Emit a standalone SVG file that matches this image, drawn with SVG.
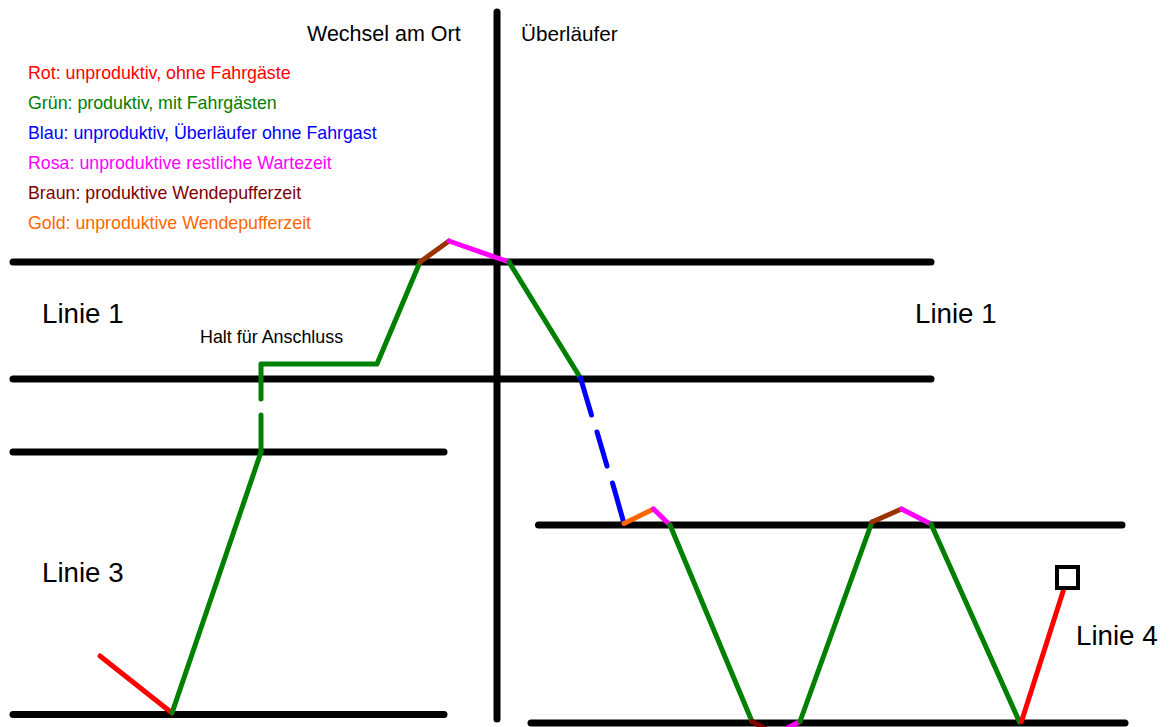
<svg xmlns="http://www.w3.org/2000/svg" width="1169" height="727" viewBox="0 0 1169 727">
<style>
text{font-family:"Liberation Sans",Arial,sans-serif;}
.lab{font-size:21.5px;fill:#000;}
.big{font-size:27.7px;fill:#000;}
.leg{font-size:17.8px;}
.small{font-size:17.9px;fill:#000;}
.track{stroke:#000;stroke-width:7;stroke-linecap:round;fill:none;}
.seg{stroke-width:5;stroke-linecap:round;stroke-linejoin:round;fill:none;}
.g{stroke:#008000;}
.r{stroke:#ff0000;}
.b{stroke:#0000ff;}
.m{stroke:#ff00ff;}
.br{stroke:#993300;}
.br2{stroke:#800000;}
.o{stroke:#ff6600;}
</style>
<rect width="1169" height="727" fill="#fff"/>
<g id="tracks">
<line class="track" x1="497" y1="12" x2="497" y2="719"/>
<line class="track" x1="13" y1="262" x2="931" y2="262"/>
<line class="track" x1="13" y1="379" x2="931" y2="379"/>
<line class="track" x1="13" y1="452" x2="444" y2="452"/>
<line class="track" x1="13" y1="714.5" x2="444" y2="714.5"/>
<line class="track" x1="538.5" y1="525" x2="1122" y2="525"/>
<line class="track" x1="531" y1="723" x2="1125" y2="723"/>
</g>
<g id="labels">
<text class="lab" x="307" y="41">Wechsel am Ort</text>
<text class="lab" x="521" y="41" style="font-size:20.7px">Überläufer</text>
<text class="big" x="42" y="323">Linie 1</text>
<text class="big" x="915" y="323">Linie 1</text>
<text class="big" x="42" y="582">Linie 3</text>
<text class="big" x="1076" y="645">Linie 4</text>
<text class="small" x="200" y="343">Halt für Anschluss</text>
</g>
<g id="legend">
<text class="leg" x="28" y="79" fill="#ff0000">Rot: unproduktiv, ohne Fahrgäste</text>
<text class="leg" x="28" y="109" fill="#008000">Grün: produktiv, mit Fahrgästen</text>
<text class="leg" x="28" y="139" fill="#0000ff">Blau: unproduktiv, Überläufer ohne Fahrgast</text>
<text class="leg" x="28" y="169" fill="#ff00ff">Rosa: unproduktive restliche Wartezeit</text>
<text class="leg" x="28" y="199" fill="#800000">Braun: produktive Wendepufferzeit</text>
<text class="leg" x="28" y="229" fill="#ff6600">Gold: unproduktive Wendepufferzeit</text>
</g>
<g id="connectors">
<line class="seg r" x1="100" y1="656" x2="172" y2="713"/>
<line class="seg g" x1="172" y1="713" x2="261" y2="452"/>
<line class="seg g" x1="261" y1="452" x2="261" y2="415"/>
<polyline class="seg g" points="261,399 261,364 377,364 420,262"/>
<line class="seg br" x1="420" y1="262" x2="449" y2="241"/>
<line class="seg m" x1="449" y1="241" x2="509" y2="262"/>
<line class="seg g" x1="509" y1="262" x2="580.5" y2="378"/>
<line class="seg b" x1="580.5" y1="378" x2="591.5" y2="415"/>
<line class="seg b" x1="597" y1="432" x2="607" y2="466"/>
<line class="seg b" x1="612.5" y1="483" x2="624" y2="523.5"/>
<line class="seg o" x1="624" y1="523.5" x2="653.5" y2="509"/>
<line class="seg m" x1="653.5" y1="509" x2="670" y2="525"/>
<line class="seg g" x1="670" y1="525" x2="752" y2="721.5"/>
<line class="seg br2" x1="752" y1="721.5" x2="776" y2="734"/>
<line class="seg m" x1="776" y1="734" x2="800" y2="721.5"/>
<line class="seg g" x1="800" y1="721.5" x2="872" y2="522"/>
<line class="seg br" x1="872" y1="522" x2="901.5" y2="509"/>
<line class="seg m" x1="901.5" y1="509" x2="931" y2="524"/>
<line class="seg g" x1="931" y1="524" x2="1019.5" y2="722"/>
<line class="seg r" x1="1021.5" y1="721.5" x2="1063.5" y2="590"/>
</g>
<g id="end-marker">
<rect x="1057" y="567" width="21" height="21" fill="#fff" stroke="#000" stroke-width="4"/>
</g>
</svg>
